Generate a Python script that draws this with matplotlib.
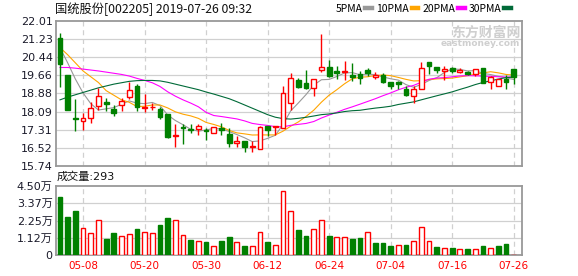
import numpy as np
import pandas as pd
import matplotlib
matplotlib.use("Agg")
import matplotlib.pyplot as plt
from matplotlib.lines import Line2D

plt.rcParams['font.family'] = ['DejaVu Sans', 'Noto Sans CJK SC']

# ---------------- data ----------------
dates = ["04-30", "05-06", "05-07", "05-08", "05-09", "05-10", "05-13", "05-14", "05-15", "05-16",
         "05-17", "05-20", "05-21", "05-22", "05-23", "05-24", "05-27", "05-28", "05-29", "05-30",
         "05-31", "06-03", "06-04", "06-05", "06-06", "06-10", "06-11", "06-12", "06-13", "06-14",
         "06-17", "06-18", "06-19", "06-20", "06-21", "06-24", "06-25", "06-26", "06-27", "06-28",
         "07-01", "07-02", "07-03", "07-04", "07-05", "07-08", "07-09", "07-10", "07-11", "07-12",
         "07-15", "07-16", "07-17", "07-18", "07-19", "07-22", "07-23", "07-24", "07-25", "07-26"]

open_ = [21.26, 19.66, 17.80, 17.70, 17.83, 18.33, 18.49, 18.19, 18.36, 18.72,
         19.20, 18.25, 18.27, 18.19, 17.97, 17.03, 17.43, 17.35, 17.35, 17.28,
         17.18, 17.39, 17.13, 16.73, 16.80, 16.56, 16.48, 17.46, 17.41, 17.39,
         18.47, 19.48, 19.31, 19.12, 19.89, 20.03, 19.85, 19.79, 19.66, 19.73,
         19.89, 19.60, 19.67, 19.38, 19.38, 19.09, 18.76, 19.05, 20.24, 20.03,
         19.85, 19.99, 19.82, 19.82, 19.70, 19.96, 19.37, 19.20, 19.51, 19.92]
high = [21.50, 19.68, 18.62, 18.04, 18.50, 19.10, 18.70, 18.36, 18.68, 19.37,
        19.27, 18.84, 18.47, 18.30, 18.00, 17.54, 17.54, 17.57, 17.57, 17.39,
        17.44, 17.61, 17.39, 17.03, 16.81, 16.80, 17.49, 17.49, 17.49, 19.22,
        19.77, 19.56, 19.87, 19.52, 21.43, 20.31, 20.06, 20.29, 20.21, 19.85,
        19.96, 19.82, 19.74, 19.38, 19.40, 19.20, 19.20, 20.24, 20.24, 20.03,
        20.06, 20.02, 19.99, 19.85, 19.92, 19.99, 19.63, 19.51, 19.66, 19.92]
low = [19.17, 18.14, 17.25, 17.28, 17.61, 18.16, 18.11, 17.90, 18.11, 18.62,
       18.11, 18.07, 18.16, 17.78, 16.93, 16.56, 16.70, 17.17, 17.10, 16.86,
       17.16, 17.10, 16.56, 16.54, 16.35, 16.35, 16.47, 17.03, 17.10, 17.39,
       18.16, 19.10, 19.09, 18.76, 19.82, 19.60, 19.51, 19.45, 19.41, 19.27,
       19.63, 19.51, 19.34, 19.05, 19.05, 18.76, 18.47, 19.05, 19.70, 19.74,
       19.46, 19.77, 19.77, 19.66, 19.63, 19.31, 19.05, 19.20, 19.05, 19.30]
close = [20.16, 18.16, 17.77, 17.83, 18.26, 18.78, 18.42, 18.04, 18.53, 19.01,
         18.30, 18.30, 18.30, 17.85, 16.99, 17.10, 17.38, 17.31, 17.45, 17.26,
         17.42, 17.28, 16.74, 16.80, 16.56, 16.60, 17.43, 17.29, 17.46, 18.88,
         19.56, 19.15, 19.10, 19.51, 20.03, 19.63, 19.78, 19.86, 19.60, 19.56,
         19.77, 19.66, 19.37, 19.20, 19.27, 18.79, 19.09, 19.99, 20.06, 19.87,
         19.92, 19.85, 19.89, 19.73, 19.92, 19.34, 19.59, 19.51, 19.37, 19.60]
prior_close = 21.00   # close of the day before the first candle (only its direction matters)

volume_wan = [3.80, 2.50, 2.87, 1.74, 1.43, 2.26, 1.04, 1.46, 1.24, 1.37,
              1.70, 1.50, 1.43, 1.98, 2.41, 2.28, 1.30, 1.00, 0.91, 0.87,
              0.59, 0.91, 1.17, 0.85, 0.59, 0.59, 1.50, 0.87, 0.65, 4.17,
              2.87, 1.63, 1.24, 1.70, 2.28, 1.24, 1.15, 1.15, 1.04, 1.11,
              1.50, 0.80, 0.80, 0.59, 0.65, 0.65, 0.91, 1.80, 0.91, 0.52,
              0.46, 0.46, 0.39, 0.39, 0.39, 0.59, 0.46, 0.59, 0.72, 0.0293]

# moving-average values before enough candles are visible
ma5_head = [20.85, 20.20, 19.50, 18.90]
ma10_head = [20.86, 20.55, 20.20, 19.85, 19.60, 19.35, 19.00, 18.80, 18.60]
ma20_head = [20.00, 20.00, 19.97, 19.93, 19.89, 19.85, 19.80, 19.75, 19.70, 19.63,
             19.53, 19.44, 19.34, 19.18, 18.95, 18.76, 18.60, 18.46, 18.30]
ma30_head = [18.60, 18.72, 18.82, 18.92, 19.02, 19.12, 19.20, 19.28, 19.34, 19.40,
             19.43, 19.44, 19.44, 19.42, 19.36, 19.28, 19.20, 19.12, 19.04, 18.94,
             18.85, 18.75, 18.65, 18.52, 18.38, 18.24, 18.10, 17.96, 17.85]

price_ticks = [15.74, 16.52, 17.31, 18.09, 18.88, 19.66, 20.44, 21.23, 22.01]
vol_ticks = [0, 1.125, 2.25, 3.375, 4.50]
vol_tick_labels = ["0", "1.12万", "2.25万", "3.37万", "4.50万"]
title = "国统股份[002205] 2019-07-26 09:32"
vol_title = "成交量:293"
ma_labels = ["5PMA", "10PMA", "20PMA", "30PMA"]

# ---------------- styles ----------------
RED = "#ff0000"
GREEN = "#008000"
MA_COLORS = ["#999999", "#ffa500", "#ff00ff", "#006a38"]
GRID = "#d0d0d0"
BORDER = "#999999"
CJK = ['Noto Sans CJK SC', 'DejaVu Sans']

o = np.array(open_); h = np.array(high); l = np.array(low); c = np.array(close)
v = np.array(volume_wan)
x = np.arange(len(c))
up = c >= o
prev = np.r_[prior_close, c[:-1]]
vup = c >= prev


def moving_avg(n, head):
    s = pd.Series(c).rolling(n).mean().to_numpy()
    s[:n - 1] = head
    return s


mas = [moving_avg(5, ma5_head), moving_avg(10, ma10_head),
       moving_avg(20, ma20_head), moving_avg(30, ma30_head)]

W, H = 578, 276
fig = plt.figure(figsize=(W / 100, H / 100), dpi=100)
left, right = 55.5, 522
ax = fig.add_axes([left / W, 1 - 166 / H, (right - left) / W, 145 / H])
axv = fig.add_axes([left / W, 1 - 255 / H, (right - left) / W, 69 / H])

xlim = (-0.585, 60.08)
label_idx = list(range(3, len(dates), 8))

for a in (ax, axv):
    a.set_xlim(*xlim)
    for s in a.spines.values():
        s.set_color(BORDER)
        s.set_linewidth(1.3)
    a.tick_params(length=0, pad=2, labelsize=8, colors="#1a1a2a")
    for xi in label_idx:
        a.axvline(xi, color=GRID, lw=0.9, ls=(0, (4, 3)), zorder=0)

# main price panel
ax.set_ylim(price_ticks[0], price_ticks[-1])
ax.set_yticks(price_ticks)
ax.set_yticklabels([f"{t:.2f}" for t in price_ticks])
for t in price_ticks[1:-1]:
    ax.axhline(t, color=GRID, lw=0.9, zorder=0)
ax.set_xticks([])

ax.text(0.996, 0.922, "东方财富网", transform=ax.transAxes, ha="right", va="center",
        color="#cfcfcf", fontsize=10, fontweight="bold", family=CJK, zorder=0)
ax.text(0.996, 0.846, "eastmoney.com", transform=ax.transAxes, ha="right", va="center",
        color="#cfcfcf", fontsize=6.5, fontweight="bold", zorder=0)

for m, col in zip(mas, MA_COLORS):
    ax.plot(x, m, color=col, lw=0.8, zorder=2)

cc = np.where(up, RED, GREEN)
ax.vlines(x, np.maximum(o, c), h, colors=cc, lw=1.0, zorder=3)
ax.vlines(x, l, np.minimum(o, c), colors=cc, lw=1.0, zorder=3)
ax.bar(x, np.maximum(np.abs(c - o), 0.005), bottom=np.minimum(o, c), width=0.62,
       facecolor=np.where(up, "white", GREEN), edgecolor=cc, lw=1.0, zorder=4)

# volume panel
axv.set_ylim(0, 4.5)
axv.set_yticks(vol_ticks)
axv.set_yticklabels(vol_tick_labels)
for t in vol_ticks[1:-1]:
    axv.axhline(t, color=GRID, lw=0.9, zorder=0)
vc = np.where(vup, RED, GREEN)
axv.bar(x, v, width=0.62, facecolor=np.where(vup, "white", GREEN), edgecolor=vc,
        lw=1.0, zorder=3)
axv.set_xticks(label_idx)
axv.set_xticklabels([dates[i] for i in label_idx], color=RED, fontsize=7.5)
axv.tick_params(axis="x", pad=4, labelcolor=RED)

fig.text(55 / W, 1 - 9 / H, title, ha="left", va="center", fontsize=8.8, color="#111111",
         family=CJK)
fig.text(57 / W, 1 - 177 / H, vol_title, ha="left", va="center", fontsize=8, color="#111111")

handles = [Line2D([], [], color=col, lw=3.2) for col in MA_COLORS]
fig.legend(handles, ma_labels, ncol=4, loc="center right", bbox_to_anchor=(511 / W, 1 - 9 / H),
           frameon=False, markerfirst=False, handlelength=0.65, handletextpad=0.25,
           columnspacing=0.4, prop={'family': CJK, 'size': 7.5}, borderpad=0,
           borderaxespad=0)

fig.savefig("out.png", dpi=100)
